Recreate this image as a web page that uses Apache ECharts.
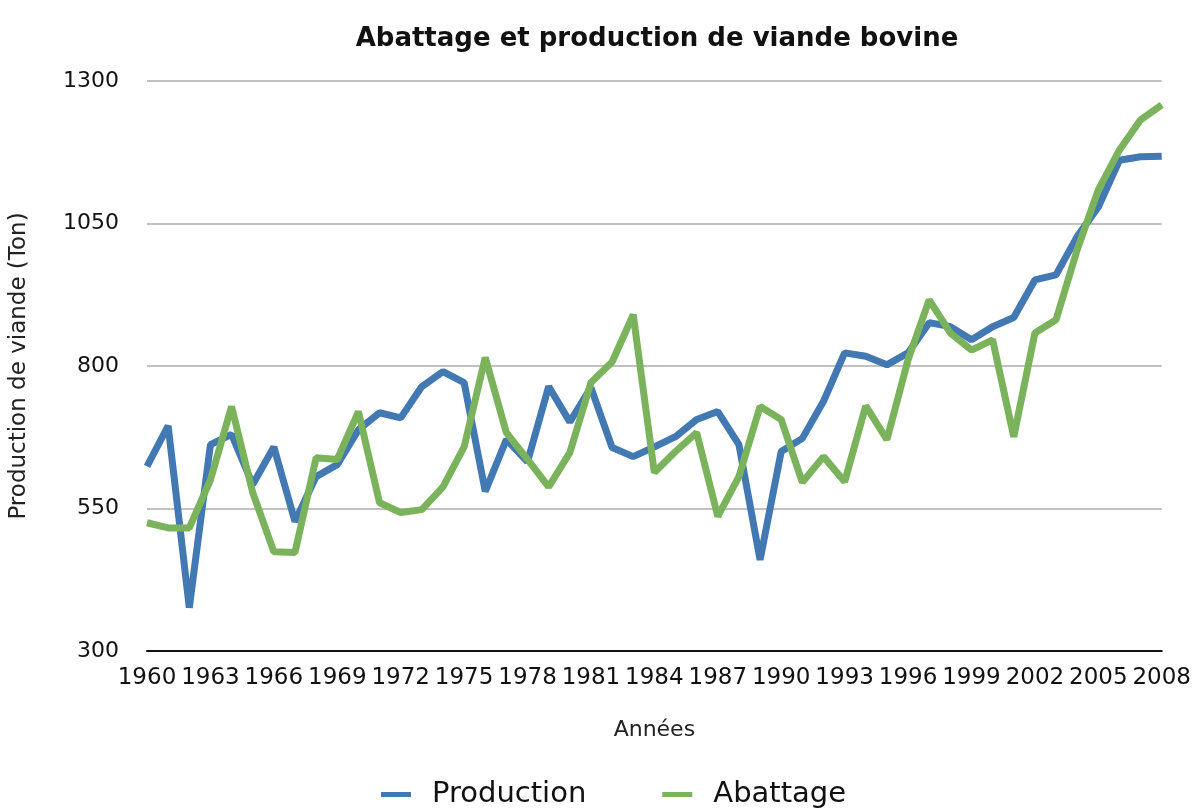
<!DOCTYPE html>
<html>
<head>
<meta charset="utf-8">
<script src="https://cdn.jsdelivr.net/npm/echarts@6/dist/echarts.min.js"></script>
<style>
html,body{margin:0;padding:0;background:#fff;}
#chart{width:1194px;height:811px;}
</style>
</head>
<body>
<div id="chart"></div>
<script>
const years = [];
for (let y = 1960; y <= 2008; y++) years.push(String(y));

const production = [
  624, 695, 376, 662, 680, 592, 658, 527, 606, 627,
  688, 718, 709, 764, 790, 771, 580, 671, 632, 764,
  702, 762, 657, 641, 658, 676, 706, 720, 662, 460,
  650, 673, 738, 823, 817, 802, 823, 876, 869, 846,
  869, 885, 951, 960, 1027, 1079, 1161, 1167, 1168
];

const abattage = [
  525, 516, 516, 600, 729, 578, 474, 473, 639, 636,
  720, 560, 543, 548, 588, 658, 815, 683, 636, 588,
  648, 771, 807, 890, 613, 650, 683, 536, 606, 729,
  706, 596, 641, 597, 730, 671, 811, 916, 858, 828,
  846, 676, 858, 881, 1004, 1109, 1179, 1232, 1258
];

const titleText = 'Abattage et production de viande bovine';
const xName = 'Années';
const yName = 'Production de viande (Ton)';
const seriesNames = ['Production', 'Abattage'];

const chart = echarts.init(document.getElementById('chart'), null, {renderer: 'canvas'});
const font = 'DejaVu Sans';
chart.setOption({
  animation: false,
  backgroundColor: '#ffffff',
  title: {
    text: titleText,
    left: 652,
    textAlign: 'center',
    top: 21,
    textStyle: {fontFamily: font, fontWeight: 'bold', fontSize: 26, color: '#111'}
  },
  legend: {
    data: seriesNames,
    bottom: -3,
    left: 376,
    icon: 'rect',
    itemWidth: 30,
    itemHeight: 5,
    itemGap: 76,
    textStyle: {fontFamily: font, fontSize: 29, color: '#111', padding: [0, 0, 0, 16]}
  },
  grid: {left: 141, right: 31, top: 81, bottom: 160, containLabel: false},
  xAxis: {
    type: 'category',
    data: years,
    boundaryGap: false,
    name: xName,
    nameLocation: 'middle',
    nameGap: 68,
    nameTextStyle: {fontFamily: font, fontSize: 22, color: '#222'},
    axisLine: {show: true, lineStyle: {color: '#111', width: 2}},
    axisTick: {show: false},
    axisLabel: {interval: 2, margin: 16, fontFamily: font, fontSize: 23, color: '#111'},
    splitLine: {show: false}
  },
  yAxis: {
    type: 'value',
    min: 300,
    max: 1300,
    interval: 250,
    name: yName,
    nameLocation: 'middle',
    nameGap: 116,
    nameRotate: 90,
    nameTextStyle: {fontFamily: font, fontSize: 23, color: '#222'},
    axisLine: {show: false},
    axisTick: {show: false},
    axisLabel: {margin: 28, fontFamily: font, fontSize: 22, color: '#111', formatter: v => String(v)},
    splitLine: {show: true, lineStyle: {color: '#adadad', width: 1.5}}
  },
  series: [
    {
      name: seriesNames[0],
      type: 'line',
      data: production,
      symbol: 'none',
      lineStyle: {width: 7, color: '#4279b3'},
      itemStyle: {color: '#4279b3'}
    },
    {
      name: seriesNames[1],
      type: 'line',
      data: abattage,
      symbol: 'none',
      lineStyle: {width: 7, color: '#7ab35c'},
      itemStyle: {color: '#7ab35c'}
    }
  ]
});
</script>
</body>
</html>
